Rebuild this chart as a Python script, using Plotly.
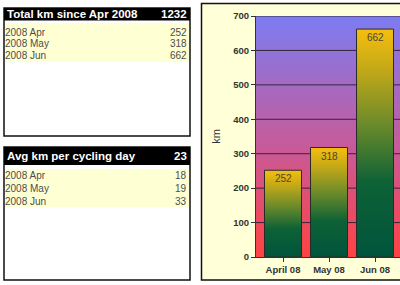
import plotly.graph_objects as go

W, H = 400, 285

# ---- data ----
months = ["2008 Apr", "2008 May", "2008 Jun"]
monthly_km = [252, 318, 662]
total_title = "Total km since Apr 2008"
total_km = 1232
avg_title = "Avg km per cycling day"
avg_km = [18, 19, 33]
avg_total = 23
bar_labels = ["April 08", "May 08", "Jun 08"]
y_ticks = [0, 100, 200, 300, 400, 500, 600, 700]
y_title = "km"

FONT = "Arial, Liberation Sans, sans-serif"


def px(x):
    return x / W


def py(y):
    return 1 - y / H


fig = go.Figure()

# ---- chart ----
xr = [-0.587, 2.543]
yr = [y_ticks[0], y_ticks[-1]]
bw = 0.804

# plot background gradient
fig.add_trace(go.Scatter(
    x=[xr[0], xr[1], xr[1], xr[0], xr[0]],
    y=[yr[0], yr[0], yr[1], yr[1], yr[0]],
    mode="lines", line=dict(width=0), fill="toself",
    fillgradient=dict(type="vertical",
                      colorscale=[[0, "#FF4242"], [0.45, "#C85A98"], [1, "#7C7CF2"]]),
    hoverinfo="skip", showlegend=False))

# gridlines
gx, gy = [], []
for t in y_ticks[1:]:
    gx += [xr[0], xr[1], None]
    gy += [t, t, None]
fig.add_trace(go.Scatter(x=gx, y=gy, mode="lines",
                         line=dict(color="#36243a", width=1),
                         hoverinfo="skip", showlegend=False))

# gradient bars
bar_scale = [[0, "#00543C"], [0.33, "#0E6236"], [0.58, "#6A8A2A"],
             [0.82, "#C2A818"], [1, "#F6BE0E"]]
for i, v in enumerate(monthly_km):
    x0, x1 = i - bw / 2, i + bw / 2
    fig.add_trace(go.Scatter(
        x=[x0, x1, x1, x0, x0], y=[0, 0, v, v, 0],
        mode="lines", line=dict(color="#2a2a2a", width=1), fill="toself",
        fillgradient=dict(type="vertical", colorscale=bar_scale),
        hoverinfo="skip", showlegend=False))

annotations = []
for i, v in enumerate(monthly_km):
    annotations.append(dict(xref="x", yref="y", x=i, y=v, text=str(v),
                            showarrow=False, xanchor="center", yanchor="top",
                            yshift=-1,
                            font=dict(family=FONT, size=10, color="#4a4630")))

# ---- shapes: panels / tables ----
shapes = []


def rect(x0, y0, x1, y1, fill, line=None, lw=0):
    shapes.append(dict(type="rect", xref="paper", yref="paper",
                       x0=px(x0), x1=px(x1), y0=py(y1), y1=py(y0),
                       fillcolor=fill,
                       line=dict(color=line or fill, width=lw),
                       layer="below"))


# chart panel
rect(201.5, 3.5, 406, 280, "#FFFFD8", "#111111", 1.5)


def text(x, y, s, anchor="left", size=10, color="#4d4d4d", bold=False):
    annotations.append(dict(xref="paper", yref="paper", x=px(x), y=py(y),
                            text=s, showarrow=False, xanchor=anchor,
                            yanchor="middle",
                            font=dict(family=FONT, size=size, color=color,
                                      weight="bold" if bold else "normal")))


def table(top, bottom, hdr_bottom, rows_top, rows_bottom, row_ys, title, total, values):
    rect(4, top, 190, bottom, "#FFFFFF", "#111111", 1.5)
    rect(4, top, 190, hdr_bottom, "#000000")
    rect(5, rows_top, 189, rows_bottom, "#FFFFD4")
    hy = (top + hdr_bottom) / 2
    text(5, hy, title, "left", 11.5, "#FFFFFF", True)
    text(189, hy, str(total), "right", 11.5, "#FFFFFF", True)
    for m, v, ry in zip(months, values, row_ys):
        text(3, ry, m, "left", 10, "#4d4d4d")
        text(189, ry, str(v), "right", 10, "#4d4d4d")


table(8, 136, 20.5, 23, 62, [32, 43.7, 55.3], total_title, total_km, monthly_km)
table(147, 280, 165, 169, 207, [175.3, 188.3, 201], avg_title, avg_total, avg_km)

fig.update_layout(
    width=W, height=H, autosize=False,
    margin=dict(l=0, r=0, t=0, b=0),
    paper_bgcolor="#FFFFFF", plot_bgcolor="rgba(0,0,0,0)",
    shapes=shapes, annotations=annotations,
    xaxis=dict(domain=[px(256), 1], range=xr, showgrid=False, zeroline=False,
               tickvals=list(range(len(bar_labels))), ticktext=bar_labels,
               ticks="outside", ticklen=4, tickcolor="#333333",
               showline=True, linecolor="#333333", linewidth=1,
               tickfont=dict(family=FONT, size=9.5, color="#333333", weight="bold"),
               automargin=False, fixedrange=True),
    yaxis=dict(domain=[py(257), py(16)], range=yr, showgrid=False, zeroline=False,
               tickvals=y_ticks, ticks="outside", ticklen=4, tickcolor="#333333",
               showline=True, linecolor="#333333", linewidth=1,
               tickfont=dict(family=FONT, size=9.5, color="#333333", weight="bold"),
               title=dict(text=y_title, standoff=10,
                          font=dict(family=FONT, size=11, color="#333333")),
               automargin=False, fixedrange=True),
)

fig.write_html("out.html")
